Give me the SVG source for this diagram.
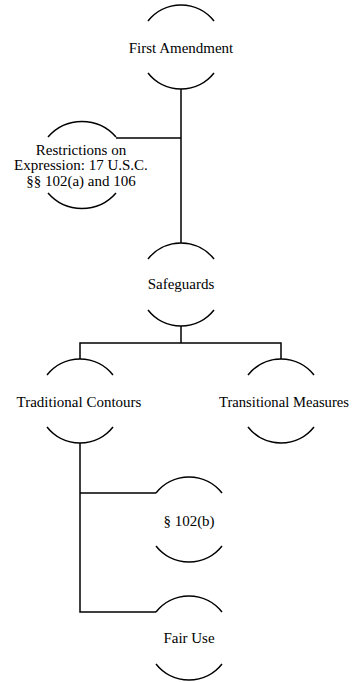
<svg xmlns="http://www.w3.org/2000/svg" width="352" height="682" viewBox="0 0 352 682">
<style>
.arc{fill:none;stroke:#000;stroke-width:1.5}
.con{fill:none;stroke:#000;stroke-width:1.5}
text{font-family:"Liberation Serif","Times New Roman",serif;font-size:15px;fill:#000;text-anchor:middle}
</style>
<rect width="352" height="682" fill="#fff"/>
<g id="connectors">
<path class="con" d="M181,89 V243 M116,138 H181"/>
<path class="con" d="M181,326 V343 M80,359 V343 H281 V359"/>
<path class="con" d="M80,443 V612 H156 M80,493 H156"/>
</g>
<g id="first-amendment">
<path class="arc" d="M148,21 A42,42 0 0 1 214,21 M148,73 A42,42 0 0 0 214,73"/>
<text x="181" y="53">First Amendment</text>
</g>
<g id="restrictions">
<path class="arc" d="M48,137 A45,45 0 0 1 116,137 M48,193 A45,45 0 0 0 116,193"/>
<text x="81" y="155">Restrictions on</text>
<text x="81" y="170">Expression: 17 U.S.C.</text>
<text x="81" y="186">§§ 102(a) and 106</text>
</g>
<g id="safeguards">
<path class="arc" d="M148,259 A42,42 0 0 1 214,259 M148,310 A42,42 0 0 0 214,310"/>
<text x="181" y="289">Safeguards</text>
</g>
<g id="traditional-contours">
<path class="arc" d="M47,375 A42,42 0 0 1 113,375 M47,427 A42,42 0 0 0 113,427"/>
<text x="79" y="407">Traditional Contours</text>
</g>
<g id="transitional-measures">
<path class="arc" d="M248,375 A42,42 0 0 1 314,375 M248,427 A42,42 0 0 0 314,427"/>
<text x="284" y="407" textLength="130" lengthAdjust="spacingAndGlyphs">Transitional Measures</text>
</g>
<g id="s102b">
<path class="arc" d="M156,493 A42,42 0 0 1 222,493 M156,546 A42,42 0 0 0 222,546"/>
<text x="189" y="526">§ 102(b)</text>
</g>
<g id="fair-use">
<path class="arc" d="M156,612 A42,42 0 0 1 222,612 M156,664 A42,42 0 0 0 222,664"/>
<text x="189" y="643">Fair Use</text>
</g>
</svg>
